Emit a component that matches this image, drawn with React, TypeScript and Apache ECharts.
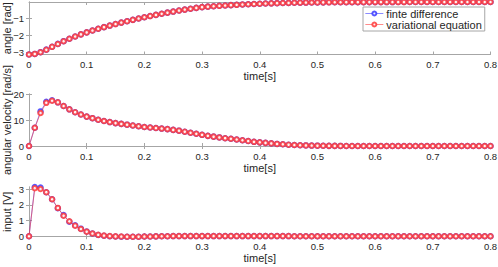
import React, { useEffect, useRef } from "react";
import * as echarts from "echarts";

const TIME = [
  0.0, 0.01, 0.02, 0.03, 0.04, 0.05, 0.06, 0.07, 0.08, 0.09,
  0.1, 0.11, 0.12, 0.13, 0.14, 0.15, 0.16, 0.17, 0.18, 0.19,
  0.2, 0.21, 0.22, 0.23, 0.24, 0.25, 0.26, 0.27, 0.28, 0.29,
  0.3, 0.31, 0.32, 0.33, 0.34, 0.35, 0.36, 0.37, 0.38, 0.39,
  0.4, 0.41, 0.42, 0.43, 0.44, 0.45, 0.46, 0.47, 0.48, 0.49,
  0.5, 0.51, 0.52, 0.53, 0.54, 0.55, 0.56, 0.57, 0.58, 0.59,
  0.6, 0.61, 0.62, 0.63, 0.64, 0.65, 0.66, 0.67, 0.68, 0.69,
  0.7, 0.71, 0.72, 0.73, 0.74, 0.75, 0.76, 0.77, 0.78, 0.79,
  0.8,
];

const ANGLE_VAR = [
  -3.1416, -3.107, -3.007, -2.858, -2.686, -2.515, -2.354, -2.206, -2.071, -1.945,
  -1.828, -1.718, -1.614, -1.516, -1.422, -1.332, -1.245, -1.162, -1.081, -1.004,
  -0.929, -0.857, -0.787, -0.719, -0.653, -0.59, -0.529, -0.472, -0.419, -0.37,
  -0.325, -0.297, -0.271, -0.247, -0.226, -0.207, -0.188, -0.17, -0.153, -0.138,
  -0.124, -0.111, -0.1, -0.09, -0.081, -0.073, -0.066, -0.06, -0.055, -0.05,
  -0.046, -0.042, -0.039, -0.036, -0.034, -0.032, -0.03, -0.029, -0.028, -0.027,
  -0.026, -0.026, -0.025, -0.025, -0.024, -0.024, -0.023, -0.023, -0.023, -0.022,
  -0.022, -0.022, -0.021, -0.021, -0.021, -0.021, -0.02, -0.02, -0.02, -0.02,
  -0.02,
];
const ANGLE_FD = [
  -3.1416, -3.107, -3.004, -2.852, -2.68, -2.51, -2.35, -2.203, -2.068, -1.943,
  -1.826, -1.717, -1.613, -1.515, -1.421, -1.331, -1.244, -1.161, -1.08, -1.003,
  -0.928, -0.856, -0.786, -0.718, -0.652, -0.589, -0.528, -0.471, -0.418, -0.369,
  -0.324, -0.296, -0.27, -0.246, -0.225, -0.206, -0.187, -0.169, -0.152, -0.137,
  -0.123, -0.11, -0.099, -0.089, -0.08, -0.072, -0.065, -0.059, -0.054, -0.049,
  -0.045, -0.041, -0.038, -0.035, -0.033, -0.031, -0.029, -0.028, -0.027, -0.026,
  -0.025, -0.025, -0.024, -0.024, -0.023, -0.023, -0.022, -0.022, -0.022, -0.021,
  -0.021, -0.021, -0.02, -0.02, -0.02, -0.02, -0.02, -0.02, -0.02, -0.02,
  -0.02,
];

const VEL_VAR = [
  0, 7.0, 12.7, 16.6, 17.4, 16.8, 15.4, 14.1, 13.0, 12.1,
  11.3, 10.7, 10.1, 9.6, 9.2, 8.8, 8.5, 8.2, 7.9, 7.6,
  7.3, 7.1, 6.9, 6.7, 6.5, 6.2, 5.9, 5.5, 5.1, 4.7,
  4.3, 3.9, 3.6, 3.3, 3.0, 2.8, 2.5, 2.2, 1.9, 1.6,
  1.4, 1.2, 1.0, 0.8, 0.65, 0.5, 0.4, 0.3, 0.22, 0.16,
  0.12, 0.09, 0.06, 0.04, 0.03, 0.02, 0.01, 0, 0, 0,
  0, 0, 0, 0, 0, 0, 0, 0, 0, 0,
  0, 0, 0, 0, 0, 0, 0, 0, 0, 0,
  0,
];
const VEL_FD = [
  0, 7.0, 13.3, 17.0, 17.6, 16.8, 15.4, 14.1, 13.0, 12.1,
  11.3, 10.7, 10.1, 9.6, 9.2, 8.8, 8.5, 8.2, 7.9, 7.6,
  7.3, 7.1, 6.9, 6.7, 6.5, 6.2, 5.9, 5.5, 5.1, 4.7,
  4.3, 3.9, 3.6, 3.3, 3.0, 2.8, 2.5, 2.2, 1.9, 1.6,
  1.4, 1.2, 1.0, 0.8, 0.65, 0.5, 0.4, 0.3, 0.22, 0.16,
  0.12, 0.09, 0.06, 0.04, 0.03, 0.02, 0.01, 0, 0, 0,
  0, 0, 0, 0, 0, 0, 0, 0, 0, 0,
  0, 0, 0, 0, 0, 0, 0, 0, 0, 0,
  0,
];

const INPUT_VAR = [
  0, 3.05, 3.0, 2.8, 2.35, 1.8, 1.3, 0.95, 0.67, 0.46,
  0.29, 0.17, 0.09, 0.04, 0.01, -0.01, -0.02, -0.03, -0.03, -0.03,
  -0.02, -0.02, -0.01, 0, 0, 0.01, 0.01, 0.01, 0.01, 0.01,
  0.01, 0.01, 0.01, 0.01, 0.01, 0.01, 0.01, 0.01, 0.01, 0.01,
  0.01, 0.01, 0.01, 0.01, 0.01, 0.01, 0, 0, 0, 0,
  0, 0, 0, 0, 0, 0, 0, 0, 0, 0,
  0, 0, 0, 0, 0, 0, 0, 0, 0, 0,
  0, 0, 0, 0, 0, 0, 0, 0, 0, 0,
  0,
];
const INPUT_FD = [
  0, 3.13, 3.1, 2.8, 2.35, 1.78, 1.34, 0.92, 0.7, 0.48,
  0.3, 0.17, 0.08, 0.03, 0.0, -0.02, -0.03, -0.03, -0.03, -0.03,
  -0.02, -0.02, -0.01, 0, 0, 0.01, 0.01, 0.01, 0.01, 0.01,
  0.01, 0.01, 0.01, 0.01, 0.01, 0.01, 0.01, 0.01, 0.01, 0.01,
  0.01, 0.01, 0.01, 0.01, 0.01, 0.01, 0, 0, 0, 0,
  0, 0, 0, 0, 0, 0, 0, 0, 0, 0,
  0, 0, 0, 0, 0, 0, 0, 0, 0, 0,
  0, 0, 0, 0, 0, 0, 0, 0, 0, 0,
  0,
];

const SERIES_NAMES = ["finte difference", "variational equation"];
const Y_NAMES = ["angle [rad]", "angular velocity [rad/s]", "input [V]"];
const X_NAME = "time[s]";
const Y_TICKS = [
  [-3, -2, -1],
  [0, 10, 20],
  [0, 1, 2, 3],
];
const Y_RANGES = [
  [-3.1416, -0.02],
  [0, 20],
  [-0.03, 3.13],
];

const FONT = "Liberation Sans, Arial, sans-serif";
const AXIS_COLOR = "#a6a6a6";
const TEXT_COLOR = "#262626";
const BLUE = "#3a3aff";
const RED = "#ff3a3a";

export default function App() {
  const ref = useRef<HTMLDivElement>(null);
  useEffect(() => {
    if (!ref.current) return;
    const chart = echarts.init(ref.current, undefined, { renderer: "svg" });
    const grids = [
      { left: 29, right: 7.5, top: 2, height: 52.5 },
      { left: 29, right: 7.5, top: 94, height: 52 },
      { left: 29, right: 7.5, top: 187, height: 49.7 },
    ].map((g) => ({ ...g, containLabel: false, outerBoundsMode: "none" }));
    const xAxis: any[] = [];
    const yAxis: any[] = [];
    const series: any[] = [];
    const panels = [
      [ANGLE_FD, ANGLE_VAR],
      [VEL_FD, VEL_VAR],
      [INPUT_FD, INPUT_VAR],
    ];
    grids.forEach((g, i) => {
      const lineStyle = { color: AXIS_COLOR, width: 1 };
      xAxis.push({
        type: "value",
        gridIndex: i,
        position: "bottom",
        min: 0,
        max: 0.8,
        interval: 0.1,
        name: X_NAME,
        nameLocation: "middle",
        nameGap: 16,
        nameMoveOverlap: false,
        nameTextStyle: { fontFamily: FONT, fontSize: 11, color: TEXT_COLOR },
        axisLine: { show: true, lineStyle },
        axisTick: { show: true, inside: true, length: 3, lineStyle },
        axisLabel: {
          fontFamily: FONT,
          fontSize: 9.5,
          color: TEXT_COLOR,
          margin: 5,
          formatter: (v: number) => String(Math.round(v * 10) / 10),
        },
        splitLine: { show: false },
      });
      xAxis.push({
        type: "value",
        gridIndex: i,
        position: "top",
        min: 0,
        max: 0.8,
        interval: 0.1,
        axisLine: { show: true, lineStyle },
        axisTick: { show: true, inside: true, length: 3, lineStyle },
        axisLabel: { show: false },
        splitLine: { show: false },
      });
      yAxis.push({
        type: "value",
        gridIndex: i,
        position: "left",
        min: Y_RANGES[i][0],
        max: Y_RANGES[i][1],
        name: Y_NAMES[i],
        nameLocation: "middle",
        nameGap: 16.5,
        nameMoveOverlap: false,
        nameTextStyle: { fontFamily: FONT, fontSize: 11, color: TEXT_COLOR },
        axisLine: { show: true, lineStyle },
        axisTick: { show: true, inside: true, length: 3, lineStyle, customValues: Y_TICKS[i] },
        axisLabel: {
          fontFamily: FONT,
          fontSize: 9.5,
          color: TEXT_COLOR,
          margin: 5,
          customValues: Y_TICKS[i],
          formatter: (v: number) => (v < 0 ? "\u2212" + String(-v) : String(v)),
        },
        splitLine: { show: false },
      });
      yAxis.push({
        type: "value",
        gridIndex: i,
        position: "right",
        min: Y_RANGES[i][0],
        max: Y_RANGES[i][1],
        axisLine: { show: true, lineStyle },
        axisTick: { show: true, inside: true, length: 3, lineStyle, customValues: Y_TICKS[i] },
        axisLabel: { show: false },
        splitLine: { show: false },
      });
      panels[i].forEach((vals, k) => {
        const color = k === 0 ? BLUE : RED;
        series.push({
          type: "line",
          name: SERIES_NAMES[k],
          xAxisIndex: i * 2,
          yAxisIndex: i * 2,
          data: TIME.map((t, j) => [t, vals[j]]),
          symbol: "emptyCircle",
          symbolSize: 4.5,
          showSymbol: true,
          clip: false,
          lineStyle: { color, width: 0.7, opacity: 0.85 },
          itemStyle: { color, borderColor: color, borderWidth: 0.6, opacity: 0.85 },
          emphasis: { disabled: true },
          z: 2 + k,
        });
      });
    });
    chart.setOption({
      animation: false,
      grid: grids,
      xAxis,
      yAxis,
      series,
      legend: {
        data: SERIES_NAMES,
        orient: "vertical",
        left: 363,
        top: 7,
        padding: [1, 3, 1, 2],
        itemWidth: 18,
        itemHeight: 5,
        itemGap: 0,
        backgroundColor: "#ffffff",
        borderColor: AXIS_COLOR,
        borderWidth: 1,
        borderRadius: 0,
        selectedMode: false,
        itemStyle: { borderWidth: 0.6 },
        lineStyle: { width: 0.7 },
        textStyle: { fontFamily: FONT, fontSize: 11, color: TEXT_COLOR, padding: [0, 0, 0, -2] },
      },
    });
    return () => chart.dispose();
  }, []);
  return (
    <div
      ref={ref}
      style={{ position: "fixed", left: 0, top: 0, width: 498, height: 267, background: "#fff" }}
    />
  );
}
